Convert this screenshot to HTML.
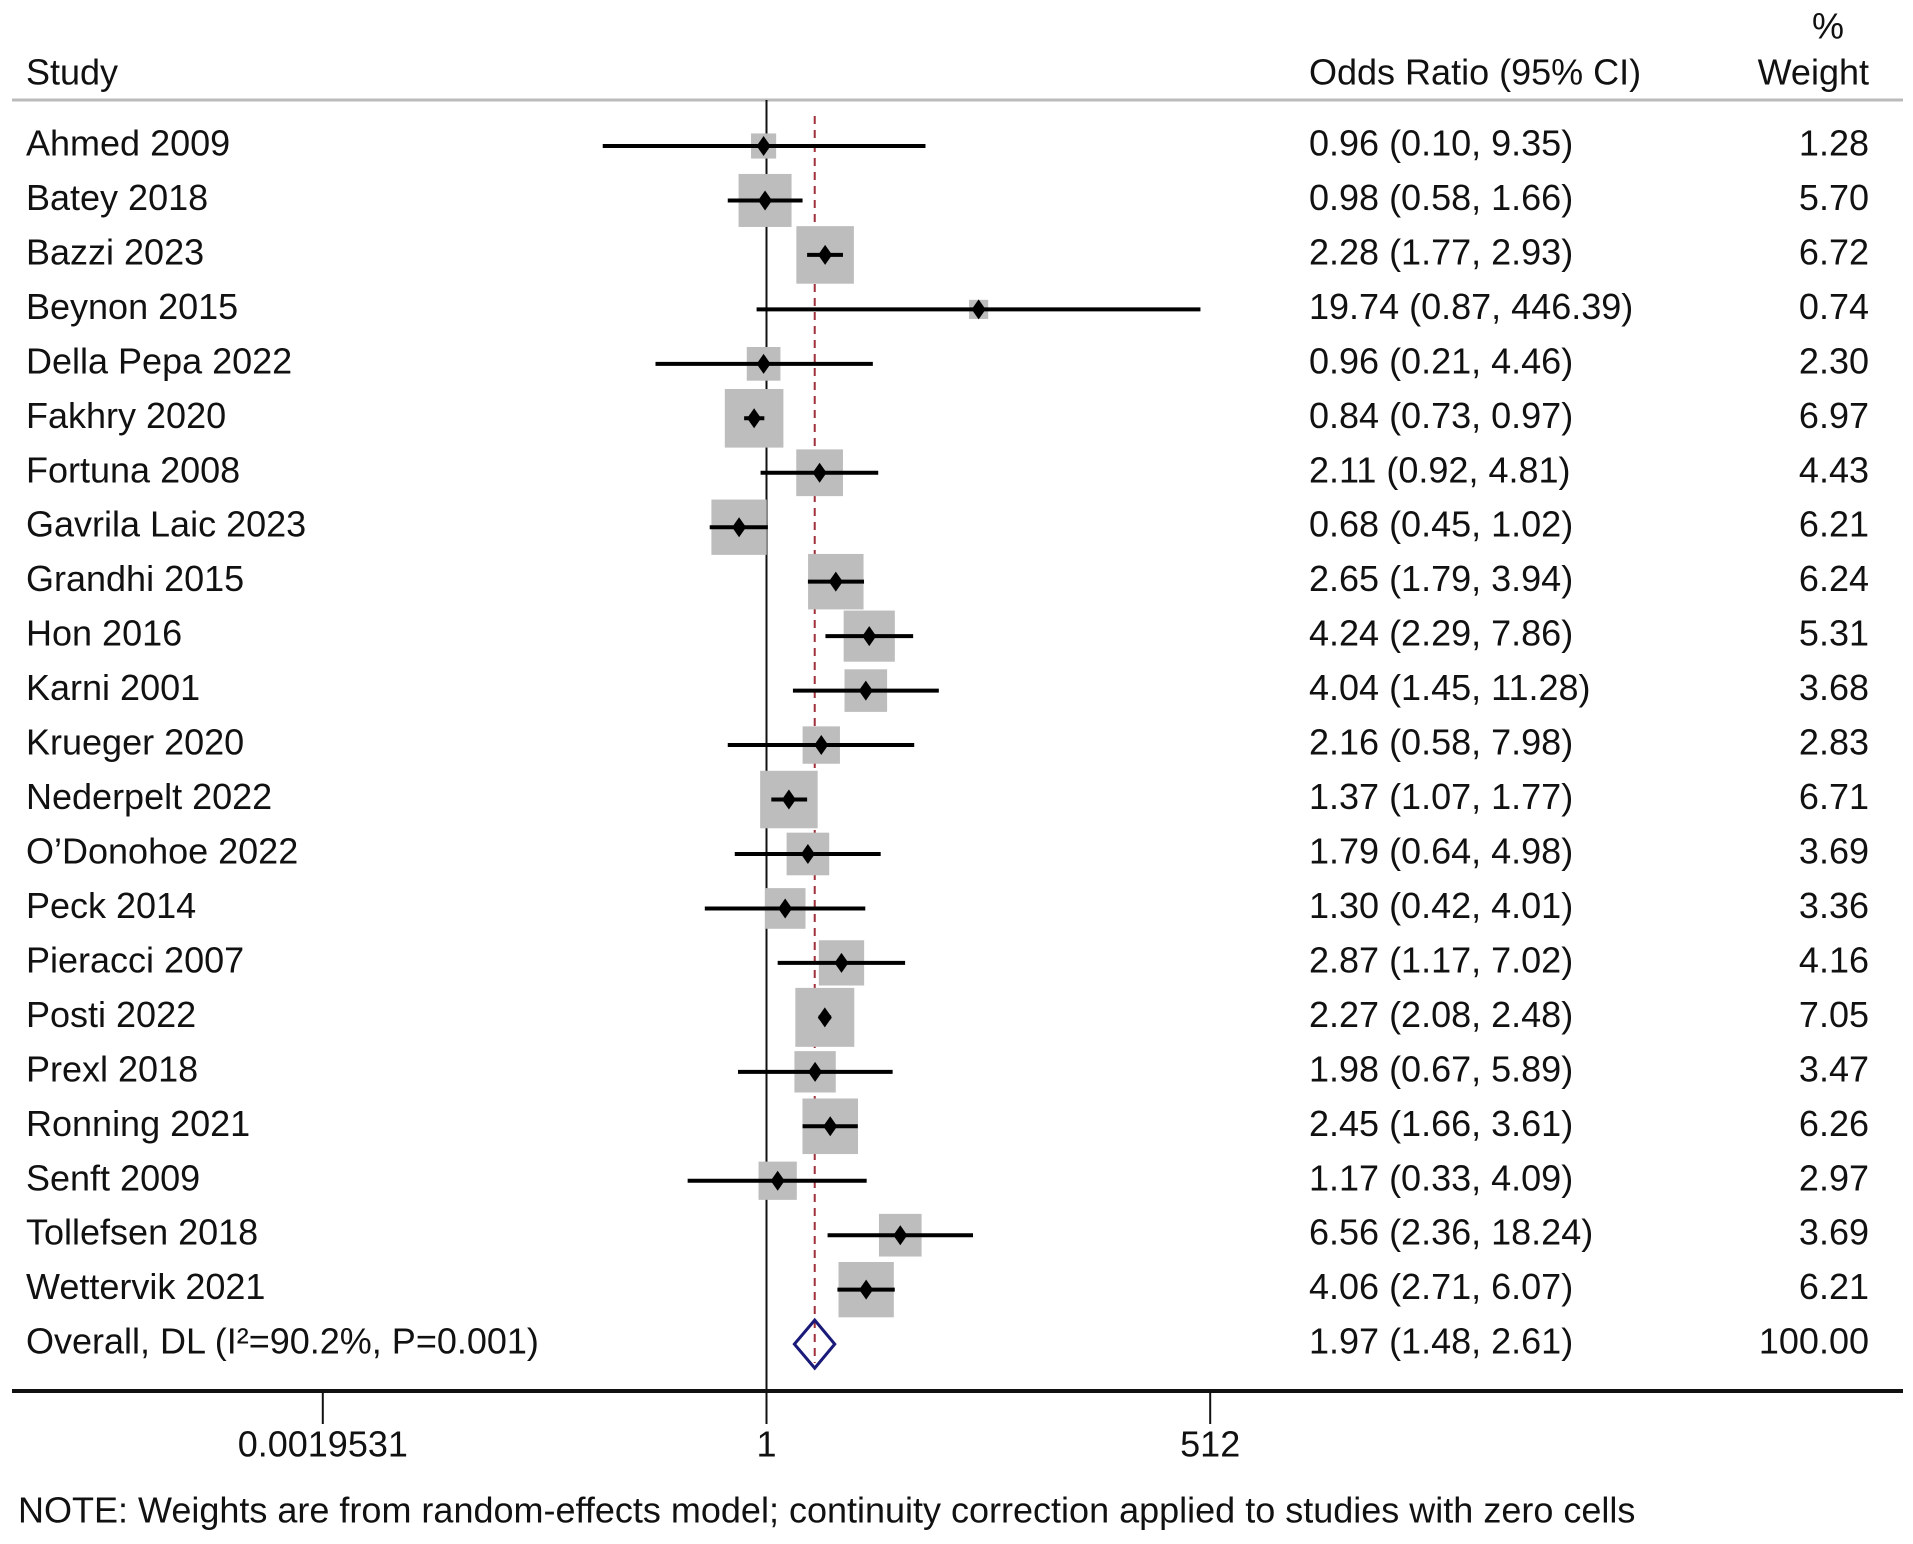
<!DOCTYPE html>
<html><head><meta charset="utf-8"><style>
body{margin:0;background:#fff}
svg{display:block}
text{font-family:"Liberation Sans",sans-serif;fill:#111}
</style></head><body>
<svg id="c" width="1913" height="1544"></svg>
<script>
const studies=["Ahmed 2009","Batey 2018","Bazzi 2023","Beynon 2015","Della Pepa 2022","Fakhry 2020","Fortuna 2008","Gavrila Laic 2023","Grandhi 2015","Hon 2016","Karni 2001","Krueger 2020","Nederpelt 2022","O\u2019Donohoe 2022","Peck 2014","Pieracci 2007","Posti 2022","Prexl 2018","Ronning 2021","Senft 2009","Tollefsen 2018","Wettervik 2021"];
const orVals=[0.96,0.98,2.28,19.74,0.96,0.84,2.11,0.68,2.65,4.24,4.04,2.16,1.37,1.79,1.30,2.87,2.27,1.98,2.45,1.17,6.56,4.06];
const loVals=[0.10,0.58,1.77,0.87,0.21,0.73,0.92,0.45,1.79,2.29,1.45,0.58,1.07,0.64,0.42,1.17,2.08,0.67,1.66,0.33,2.36,2.71];
const hiVals=[9.35,1.66,2.93,446.39,4.46,0.97,4.81,1.02,3.94,7.86,11.28,7.98,1.77,4.98,4.01,7.02,2.48,5.89,3.61,4.09,18.24,6.07];
const weights=[1.28,5.70,6.72,0.74,2.30,6.97,4.43,6.21,6.24,5.31,3.68,2.83,6.71,3.69,3.36,4.16,7.05,3.47,6.26,2.97,3.69,6.21];
const overall=[1.97,1.48,2.61];
const overallWeight="100.00";
const overallLabel="Overall, DL (I\u00b2=90.2%, P=0.001)";
const tickVals=[0.001953125,1,512];
const tickLabels=["0.0019531","1","512"];

const svg=document.getElementById('c');
const NS="http://www.w3.org/2000/svg";
function mk(t,a,p){const e=document.createElementNS(NS,t);for(const k in a)e.setAttribute(k,a[k]);(p||svg).appendChild(e);return e;}
const x=v=>766.5+49.3*Math.log2(v);
const y=i=>146+54.46*i;
const fmt=v=>v.toFixed(2);
function txt(s,xx,yy,anchor,name,size){const t=mk('text',{x:xx,y:yy,'font-size':size||36,'text-anchor':anchor||'start','dominant-baseline':'middle'});t.textContent=s;


return t;}

txt("Study",26,75,'start','study-header');
txt("Odds Ratio (95% CI)",1309,75,'start','or-header');
txt("%",1828,29,'middle','weight-header-pct');
txt("Weight",1869,75,'end','weight-header');
let l=mk('line',{x1:12,x2:1903,y1:100,y2:100,stroke:'#bbb','stroke-width':3});



let nl=mk('line',{x1:766.5,x2:766.5,y1:100,y2:1424,stroke:'#111','stroke-width':2});


let ol=mk('line',{x1:x(overall[0]),x2:x(overall[0]),y1:116,y2:1363,stroke:'#a0303a','stroke-width':2,'stroke-dasharray':'8,6'});



studies.forEach((s,i)=>{
  const g=mk('g',{});
  
  
  const yy=y(i);
  const side=22.2*Math.sqrt(weights[i]);
  const b=mk('rect',{x:x(orVals[i])-side/2,y:yy-side/2,width:side,height:side,fill:'#bdbdbd'},g);
  
  
  const c=mk('line',{x1:x(loVals[i]),x2:x(hiVals[i]),y1:yy,y2:yy,stroke:'#000','stroke-width':4},g);
  
  
  const px=x(orVals[i]);
  const p=mk('polygon',{points:`${px},${yy-10} ${px+7},${yy} ${px},${yy+10} ${px-7},${yy}`,fill:'#000'},g);
  
  
  txt(s,26,yy,'start','study-label');
  txt(`${fmt(orVals[i])} (${fmt(loVals[i])}, ${fmt(hiVals[i])})`,1309,yy,'start','or-ci-value');
  txt(fmt(weights[i]),1869,yy,'end','weight-value');
});
const oy=y(studies.length);
const d=mk('polygon',{points:`${x(overall[1])},${oy} ${x(overall[0])},${oy-24} ${x(overall[2])},${oy} ${x(overall[0])},${oy+24}`,fill:'none',stroke:'#1a1a7a','stroke-width':3});


txt(overallLabel,26,oy,'start','overall-label');
txt(`${fmt(overall[0])} (${fmt(overall[1])}, ${fmt(overall[2])})`,1309,oy,'start','overall-or');
txt(overallWeight,1869,oy,'end','overall-weight');

let ax=mk('line',{x1:12,x2:1903,y1:1391,y2:1391,stroke:'#111','stroke-width':4});


tickVals.forEach((v,i)=>{
  const t=mk('line',{x1:x(v),x2:x(v),y1:1391,y2:1424,stroke:'#111','stroke-width':2});
  
  
  txt(tickLabels[i],x(v),1447,'middle','x-tick-label');
});
txt("NOTE: Weights are from random-effects model; continuity correction applied to studies with zero cells",18,1513,'start','footnote',36);
</script>
</body></html>
